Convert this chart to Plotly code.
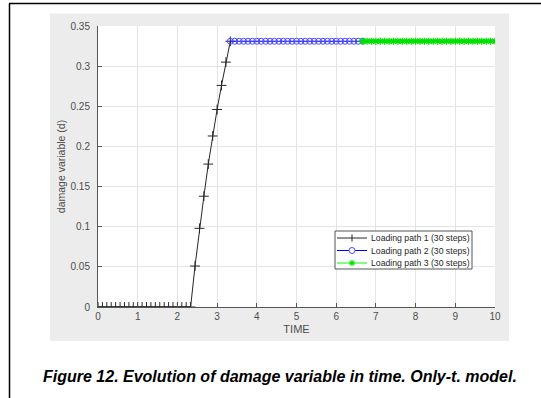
import plotly.graph_objects as go

# ---- data ----
t1 = [0.0, 0.111, 0.222, 0.333, 0.444, 0.556, 0.667, 0.778, 0.889, 1.0,
      1.111, 1.222, 1.333, 1.444, 1.556, 1.667, 1.778, 1.889, 2.0, 2.111,
      2.222, 2.333, 2.444, 2.556, 2.667, 2.778, 2.889, 3.0, 3.111, 3.222, 3.333]
d1 = [0, 0, 0, 0, 0, 0, 0, 0, 0, 0,
      0, 0, 0, 0, 0, 0, 0, 0, 0, 0,
      0, 0, 0.051, 0.098, 0.138, 0.178, 0.213, 0.246, 0.276, 0.305, 0.331]
t2 = [3.333, 3.444, 3.556, 3.667, 3.778, 3.889, 4.0, 4.111, 4.222, 4.333,
      4.444, 4.556, 4.667, 4.778, 4.889, 5.0, 5.111, 5.222, 5.333, 5.444,
      5.556, 5.667, 5.778, 5.889, 6.0, 6.111, 6.222, 6.333, 6.444, 6.556, 6.667]
d2 = [0.331] * 31
t3 = [6.667, 6.778, 6.889, 7.0, 7.111, 7.222, 7.333, 7.444, 7.556, 7.667,
      7.778, 7.889, 8.0, 8.111, 8.222, 8.333, 8.444, 8.556, 8.667, 8.778,
      8.889, 9.0, 9.111, 9.222, 9.333, 9.444, 9.556, 9.667, 9.778, 9.889, 10.0]
d3 = [0.331] * 31

names = ["Loading path 1 (30 steps)", "Loading path 2 (30 steps)", "Loading path 3 (30 steps)"]
colors = ["#262626", "#0000ff", "#00ff00"]
x_ticks = [0, 1, 2, 3, 4, 5, 6, 7, 8, 9, 10]
y_ticks = [0, 0.05, 0.1, 0.15, 0.2, 0.25, 0.3, 0.35]
y_tick_text = ["0", "0.05", "0.1", "0.15", "0.2", "0.25", "0.3", "0.35"]

W, H = 541, 398
L, R, T, B = 98, 495, 26, 307   # plot area in pixels
pw, ph = R - L, B - T

def px(x):
    return (x - L) / pw

def py(y):
    return (B - y) / ph

fig = go.Figure()
fig.add_trace(go.Scatter(
    x=t1, y=d1, name=names[0], mode="lines+markers",
    line=dict(color=colors[0], width=1),
    marker=dict(symbol="cross-thin", size=7, line=dict(color=colors[0], width=1), color=colors[0]),
))
fig.add_trace(go.Scatter(
    x=t2, y=d2, name=names[1], mode="lines+markers",
    line=dict(color=colors[1], width=1),
    marker=dict(symbol="circle-open", size=6, color="#4a4aff", line=dict(width=1)),
))
fig.add_trace(go.Scatter(
    x=t3, y=d3, name=names[2], mode="lines+markers",
    line=dict(color=colors[2], width=1),
    marker=dict(symbol="asterisk-open", size=6, color="#00e000", line=dict(color="#00e000", width=1.3)),
))

font_fam = "Liberation Sans, Arial, sans-serif"

shapes = [
    dict(type="rect", xref="paper", yref="paper", layer="below",
         x0=px(50), x1=px(509), y0=py(341), y1=py(13.5),
         fillcolor="#ececec", line=dict(width=0)),
    dict(type="rect", xref="paper", yref="paper", layer="below",
         x0=0, x1=1, y0=0, y1=1,
         fillcolor="white", line=dict(width=0)),
    dict(type="line", xref="paper", yref="paper",
         x0=px(9.5), x1=px(9.5), y0=py(400), y1=py(3.5),
         line=dict(color="black", width=1.5)),
    dict(type="line", xref="paper", yref="paper",
         x0=px(9), x1=px(545), y0=py(3.5), y1=py(3.5),
         line=dict(color="black", width=1.5)),
    # legend box
    dict(type="rect", xref="paper", yref="paper",
         x0=px(335), x1=px(472), y0=py(269), y1=py(231),
         fillcolor="white", line=dict(color="#555555", width=1)),
]
annotations = []
rows = [238, 250.5, 263]
for i, (nm, c, ry) in enumerate(zip(names, colors, rows)):
    shapes.append(dict(type="line", xref="paper", yref="paper",
                       x0=px(337), x1=px(367), y0=py(ry), y1=py(ry),
                       line=dict(color=c, width=1)))
    if i == 0:
        shapes.append(dict(type="line", xref="paper", yref="paper",
                           x0=px(352), x1=px(352), y0=py(ry - 3.5), y1=py(ry + 3.5),
                           line=dict(color=c, width=1)))
    elif i == 1:
        shapes.append(dict(type="circle", xref="paper", yref="paper",
                           x0=px(349), x1=px(355), y0=py(ry - 3), y1=py(ry + 3),
                           fillcolor="white", line=dict(color="#4a4aff", width=1)))
    else:
        for dx, dy in [(0, 3), (3, 0), (2.2, 2.2), (2.2, -2.2)]:
            shapes.append(dict(type="line", xref="paper", yref="paper",
                               x0=px(352 - dx), x1=px(352 + dx), y0=py(ry - dy), y1=py(ry + dy),
                               line=dict(color="#00e000", width=1.2)))
    annotations.append(dict(xref="paper", yref="paper", x=px(369), y=py(ry),
                            xanchor="left", yanchor="middle", showarrow=False,
                            text=nm, font=dict(family=font_fam, size=8.7, color="#262626")))

annotations.append(dict(xref="paper", yref="paper", x=px(280), y=py(376),
                        xanchor="center", yanchor="middle", showarrow=False,
                        text="<b><i>Figure 12. Evolution of damage variable in time. Only-t. model.</i></b>",
                        font=dict(family=font_fam, size=16, color="black")))

fig.update_layout(
    width=W, height=H,
    margin=dict(l=L, r=W - R, t=T, b=H - B),
    paper_bgcolor="white",
    plot_bgcolor="white",
    showlegend=False,
    xaxis=dict(
        range=[0, 10], tickvals=x_ticks, ticks="inside", ticklen=4,
        tickcolor="#555555", linecolor="#555555", linewidth=1, showline=True,
        showgrid=True, gridcolor="#e4e4e4", zeroline=False,
        tickfont=dict(family=font_fam, size=10, color="#4d4d4d"),
        title=dict(text="TIME", font=dict(family=font_fam, size=11, color="#4d4d4d"), standoff=4),
    ),
    yaxis=dict(
        range=[0, 0.35], tickvals=y_ticks, ticktext=y_tick_text, ticks="inside", ticklen=4,
        tickcolor="#555555", linecolor="#555555", linewidth=1, showline=True,
        showgrid=True, gridcolor="#e4e4e4", zeroline=False, ticklabelstandoff=5,
        tickfont=dict(family=font_fam, size=10, color="#4d4d4d"),
        title=dict(text="damage variable (d)", font=dict(family=font_fam, size=10.5, color="#4d4d4d"), standoff=2),
    ),
    shapes=shapes,
    annotations=annotations,
)

fig.write_html("out.html")
